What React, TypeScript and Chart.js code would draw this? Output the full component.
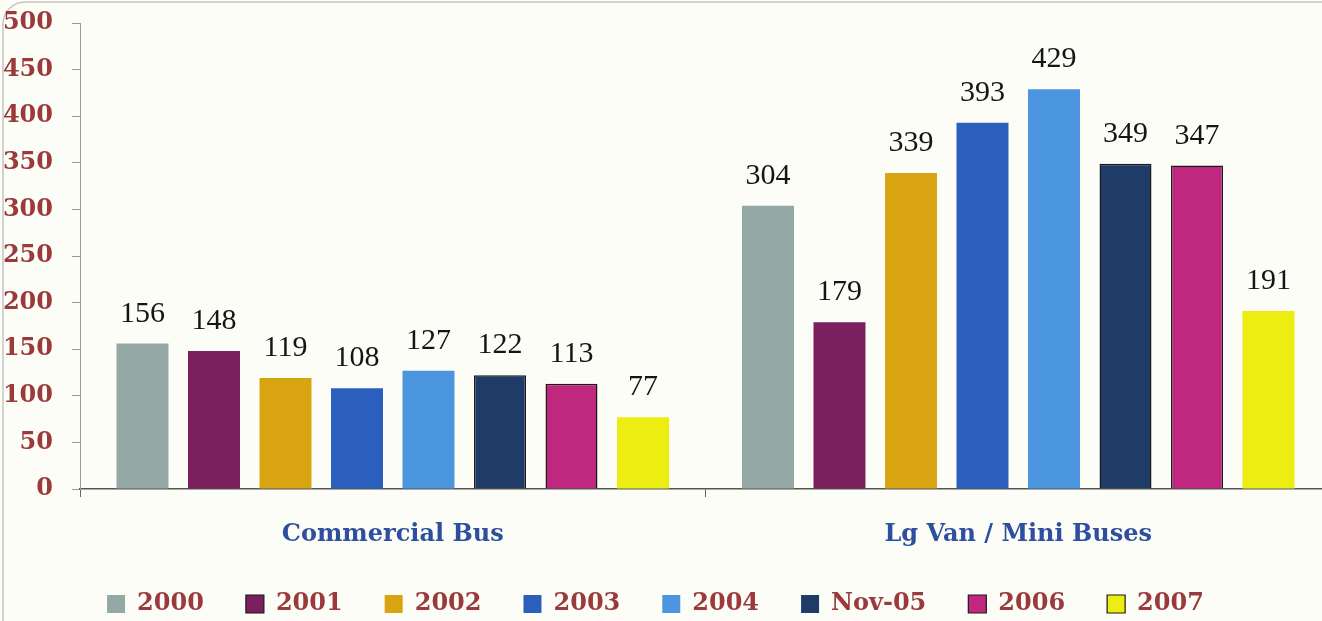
import { useEffect, useRef } from "react";
import { Chart, registerables } from "chart.js";

Chart.register(...registerables);

const categories = ["Commercial Bus", "Lg Van / Mini Buses"];
const seriesNames = ["2000", "2001", "2002", "2003", "2004", "Nov-05", "2006", "2007"];
const values2000 = [156, 304];
const values2001 = [148, 179];
const values2002 = [119, 339];
const values2003 = [108, 393];
const values2004 = [127, 429];
const valuesNov05 = [122, 349];
const values2006 = [113, 347];
const values2007 = [77, 191];
const seriesValues = [values2000, values2001, values2002, values2003, values2004, valuesNov05, values2006, values2007];
const seriesColors = ["#94a8a6", "#7b1f5e", "#d9a412", "#2b5fbe", "#4b96df", "#1f3c68", "#c0277f", "#eded12"];
const barBorderWidths = [0, 0, 0, 0, 0, 1.5, 1.5, 0];
const legendBorder = [false, true, false, false, false, false, true, true];
const yMin = 0;
const yMax = 500;
const yStep = 50;

const SERIF = "'Liberation Serif', 'Times New Roman', serif";
const WIDE_SERIF = "'DejaVu Serif', 'Liberation Serif', serif";
const RED = "#9b3a3a";
const SHIFT = 20;

export default function App() {
  const canvasRef = useRef<HTMLCanvasElement | null>(null);

  useEffect(() => {
    document.body.style.margin = "0";
    document.body.style.background = "#fdfdf8";
    const canvas = canvasRef.current;
    if (!canvas) return;

    const bgPlugin = {
      id: "bg",
      beforeDraw(chart: any) {
        const ctx = chart.ctx;
        ctx.save();
        ctx.fillStyle = "#fdfdf8";
        ctx.fillRect(0, 0, chart.width, chart.height);
        ctx.strokeStyle = "#c4c4c4";
        ctx.lineWidth = 1.5;
        ctx.beginPath();
        const r = 22;
        const x0 = 3 + SHIFT, y0 = 2;
        ctx.moveTo(x0, 700);
        ctx.lineTo(x0, y0 + r);
        ctx.arcTo(x0, y0, x0 + r, y0, r);
        ctx.lineTo(1400, y0);
        ctx.stroke();
        ctx.restore();
      },
    };

    const labelPlugin = {
      id: "valueLabels",
      afterDatasetsDraw(chart: any) {
        const ctx = chart.ctx;
        ctx.save();
        ctx.font = `30px ${SERIF}`;
        ctx.fillStyle = "#151515";
        ctx.textAlign = "center";
        ctx.textBaseline = "alphabetic";
        chart.data.datasets.forEach((ds: any, i: number) => {
          const meta = chart.getDatasetMeta(i);
          meta.data.forEach((el: any, j: number) => {
            ctx.fillText(String(ds.data[j]), el.x, el.y - 22);
          });
        });
        ctx.restore();
      },
    };

    const chart = new Chart(canvas, {
      type: "bar",
      data: {
        labels: categories,
        datasets: seriesNames.map((name, i) => ({
          label: name,
          data: seriesValues[i],
          backgroundColor: seriesColors[i],
          borderColor: "#1a1a1a",
          borderWidth: barBorderWidths[i],
          categoryPercentage: 0.9145,
          barPercentage: 0.727,
        })),
      },
      options: {
        responsive: false,
        animation: false,
        layout: { padding: { top: 23, right: 1, bottom: 0, left: 0 } },
        plugins: {
          tooltip: { enabled: false },
          legend: {
            position: "bottom",
            labels: {
              color: RED,
              font: { family: WIDE_SERIF, size: 24, weight: "bold" },
              boxWidth: 18,
              boxHeight: 18,
              padding: 42,
              generateLabels(chart: any) {
                const items = Chart.defaults.plugins.legend.labels.generateLabels(chart);
                return items.map((it: any, i: number) => ({
                  ...it,
                  lineWidth: legendBorder[i] ? 1.2 : 0,
                  strokeStyle: "#1a1a1a",
                }));
              },
            },
          },
        },
        scales: {
          x: {
            afterFit(scale: any) {
              scale.height = 61;
              scale.paddingLeft = 0;
              scale.paddingRight = 0;
            },
            grid: {
              display: true,
              drawOnChartArea: false,
              tickLength: 8,
              color: "#666",
              offset: true,
            },
            border: { display: true, color: "#555", width: 1.5 },
            ticks: {
              color: "#2d4f9e",
              font: { family: WIDE_SERIF, size: 24, weight: "bold" },
              padding: 23,
            },
          },
          y: {
            min: yMin,
            max: yMax,
            afterFit(scale: any) {
              scale.width = 80 + SHIFT;
              scale.paddingTop = 0;
              scale.paddingBottom = 0;
            },
            grid: {
              display: true,
              drawOnChartArea: false,
              tickLength: 8,
              color: "#999",
            },
            border: { display: true, color: "#999", width: 1 },
            ticks: {
              stepSize: yStep,
              color: RED,
              font: { family: WIDE_SERIF, size: 24, weight: "bold" },
              padding: 19,
            },
          },
        },
      },
      plugins: [bgPlugin, labelPlugin],
    });

    return () => {
      chart.destroy();
    };
  }, []);

  return (
    <div style={{ width: 1322, height: 621, overflow: "hidden", background: "#fdfdf8" }}>
      <canvas
        ref={canvasRef}
        width={1312 + 2 * SHIFT}
        height={626}
        style={{ display: "block", marginLeft: -SHIFT }}
      />
    </div>
  );
}
